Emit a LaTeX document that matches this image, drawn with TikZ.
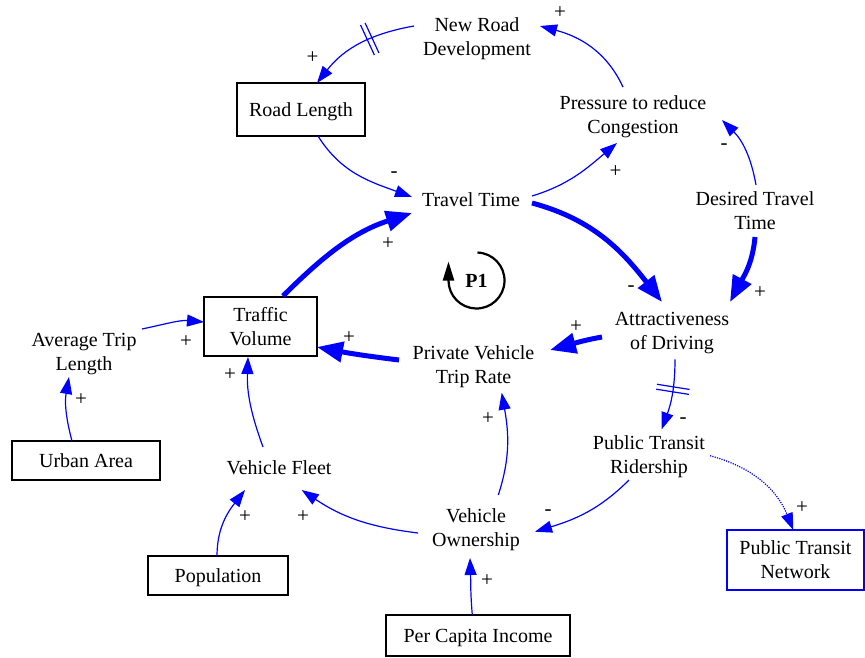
\documentclass[tikz,border=0pt]{standalone}
\usepackage{fontspec}
\setmainfont{Liberation Serif}
\usetikzlibrary{arrows.meta,decorations.markings}
\begin{document}
\begin{tikzpicture}[x=1pt,y=1pt,
  every node/.style={font=\fontsize{20}{24}\selectfont, text=black},
  var/.style={align=center, inner sep=0pt},
  box/.style={draw=black, line width=1.3pt, align=center, inner sep=0pt},
  onebox/.style={box, text depth=0pt},
  sign/.style={inner sep=0pt, font=\fontsize{21}{24}\selectfont},
  link/.style={draw=blue, line width=1.2pt, -{Triangle[length=17pt,width=12pt]}},
  strong/.style={draw=blue, line width=5pt, -{Triangle[length=26pt,width=20pt]}},
  faint/.style={link, dash pattern=on 1.2pt off 1.2pt},
  delaymark/.style={postaction={decorate}, decoration={markings,
    mark=at position #1 with {\draw[-, blue, line width=1.2pt]
      (-2.5,-16.5) -- (-2.5,16.5) (2.5,-16.5) -- (2.5,16.5);}}},
  loopsym/.style={draw=black, line width=2.2pt, -{Triangle[length=19pt,width=11pt]}}
]
\useasboundingbox (0,0) rectangle (865,-657);

% variables
\node[var] (nrd)  at (477,-39)   {New Road\\Development};
\node[onebox, minimum width=128pt, minimum height=53pt] (rl) at (301,-109.5) {Road Length};
\node[var] (pres) at (633,-117)  {Pressure to reduce\\Congestion};
\node[var] (tt)   at (471,-200)  {Travel Time};
\node[var] (dtt)  at (755,-211)  {Desired Travel\\Time};
\node[var] (attr) at (672,-333)  {Attractiveness\\of Driving};
\node[box, minimum width=113pt, minimum height=59pt] (tv) at (260.5,-326.5) {Traffic\\Volume};
\node[var] (pvtr) at (473.5,-367) {Private Vehicle\\Trip Rate};
\node[var] (atl)  at (84,-354)   {Average Trip\\Length};
\node[onebox, minimum width=148pt, minimum height=39pt] (ua) at (86,-460.5) {Urban Area};
\node[var] (vf)   at (279,-468)  {Vehicle Fleet};
\node[onebox, minimum width=140pt, minimum height=39pt] (pop) at (218,-575.5) {Population};
\node[var] (vo)   at (476,-530)  {Vehicle\\Ownership};
\node[var] (ptr)  at (649,-457)  {Public Transit\\Ridership};
\node[box, draw=blue, minimum width=137pt, minimum height=60pt] (ptn) at (795.5,-560) {Public Transit\\Network};
\node[onebox, minimum width=184pt, minimum height=41pt] (pci) at (478,-635.5) {Per Capita Income};

% loop marker
\node[font=\fontsize{20}{24}\selectfont\bfseries, inner sep=0pt] (p1) at (476.5,-280.5) {P1};
\draw[loopsym] ([shift={(88:28)}]p1.center) arc[start angle=88, end angle=-180, radius=28] -- ++(0,19);

% causal links
\draw[link, delaymark=0.4] ([shift={(-63,13)}]nrd.center) to[out=190,in=52] ([shift={(16,26.5)}]rl.center);
\draw[link] ([shift={(-10,30)}]pres.center) to[out=115,in=-15] ([shift={(63,13)}]nrd.center);
\draw[link] ([shift={(17,-26.5)}]rl.center) to[out=-58,in=160] ([shift={(-59,3)}]tt.center);
\draw[link] ([shift={(61,4)}]tt.center) to[out=17,in=220] ([shift={(-16,-26)}]pres.center);
\draw[link] ([shift={(1,26)}]dtt.center) to[out=100,in=-45] ([shift={(89,-3)}]pres.center);
\draw[strong] ([shift={(61,-3)}]tt.center) to[out=-15,in=128] ([shift={(-10,31)}]attr.center);
\draw[strong] ([shift={(0,-26)}]dtt.center) to[out=-95,in=62] ([shift={(58,31)}]attr.center);
\draw[strong] ([shift={(-70,-4)}]attr.center) to[out=190,in=15] ([shift={(76.5,17)}]pvtr.center);
\draw[strong] ([shift={(-74.5,7)}]pvtr.center) to[out=173,in=-11] ([shift={(56.5,-20.5)}]tv.center);
\draw[strong] ([shift={(22.5,30.5)}]tv.center) to[out=45,in=198] ([shift={(-59,-13)}]tt.center);
\draw[link] ([shift={(58,25)}]atl.center) to[out=12,in=175] ([shift={(-56.5,4.5)}]tv.center);
\draw[link] ([shift={(-14,19.5)}]ua.center) to[out=105,in=-100] ([shift={(-15,-23)}]atl.center);
\draw[link] ([shift={(-16,21)}]vf.center) to[out=110,in=-92] ([shift={(-12.5,-30.5)}]tv.center);
\draw[link] ([shift={(-1,19.5)}]pop.center) to[out=90,in=232] ([shift={(-34,-22)}]vf.center);
\draw[link] ([shift={(-58,-3)}]vo.center) to[out=173,in=-34] ([shift={(22.7,-22)}]vf.center);
\draw[link] ([shift={(22.3,35)}]vo.center) to[out=72,in=-80] ([shift={(28.2,-25.7)}]pvtr.center);
\draw[link] ([shift={(-5.7,20.5)}]pci.center) to[out=95,in=-88] ([shift={(-6,-28)}]vo.center);
\draw[link] ([shift={(-20,-23)}]ptr.center) to[out=225,in=17] ([shift={(59,-1.7)}]vo.center);
\draw[link, delaymark=0.42] ([shift={(3,-26.3)}]attr.center) to[out=-90,in=70] ([shift={(12.7,27.7)}]ptr.center);
\draw[faint] ([shift={(61,1.3)}]ptr.center) to[out=-15,in=112] ([shift={(-2.2,30)}]ptn.center);

% polarity signs
\node[sign] (s1)  at (312.5,-58)  {+};
\node[sign] (s2)  at (560,-13)    {+};
\node[sign] (s3)  at (394,-175)   {-};
\node[sign] (s4)  at (615.5,-172) {+};
\node[sign] (s5)  at (724,-146.5) {-};
\node[sign] (s6)  at (631,-289)   {-};
\node[sign] (s7)  at (760,-292.5) {+};
\node[sign] (s8)  at (576,-327)   {+};
\node[sign] (s9)  at (349,-338)   {+};
\node[sign] (s10) at (388,-244)   {+};
\node[sign] (s11) at (186,-342)   {+};
\node[sign] (s12) at (81,-400)    {+};
\node[sign] (s13) at (230,-375)   {+};
\node[sign] (s14) at (245,-517)   {+};
\node[sign] (s15) at (303,-517)   {+};
\node[sign] (s16) at (488,-419)   {+};
\node[sign] (s17) at (487,-581)   {+};
\node[sign] (s18) at (548,-512.5) {-};
\node[sign] (s19) at (683,-420.5) {-};
\node[sign] (s20) at (802,-508)   {+};
\end{tikzpicture}
\end{document}
